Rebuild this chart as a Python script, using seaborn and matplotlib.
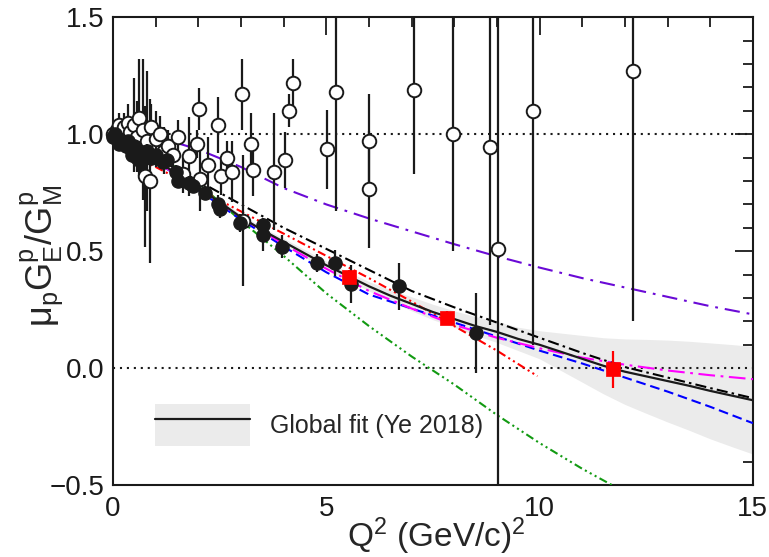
import numpy as np
import pandas as pd
import matplotlib
matplotlib.use("Agg")
import matplotlib.pyplot as plt
import seaborn as sns
from matplotlib.ticker import MultipleLocator, FixedFormatter, FixedLocator
from matplotlib.patches import Patch
from matplotlib.lines import Line2D

# ---------------- data ----------------
# Rosenbluth (open circles): Q2, ratio, error
ros_q = [0.01, 0.05, 0.10, 0.15, 0.20, 0.25, 0.30, 0.35, 0.40, 0.45, 0.50, 0.55,
         0.60, 0.65, 0.70, 0.75, 0.80, 0.87, 0.90, 1.00, 1.10, 1.20, 1.30, 1.40,
         1.52, 1.64, 1.78, 1.97, 2.01, 2.04, 2.23, 2.46, 2.53, 2.67, 2.78, 3.02,
         3.04, 3.23, 3.28, 3.77, 4.03, 4.12, 4.22, 5.01, 5.22, 6.00, 6.00, 7.05,
         7.96, 8.83, 9.02, 9.84, 12.20]
ros_v = [1.00, 0.99, 1.02, 1.04, 0.98, 1.03, 0.97, 1.05, 1.01, 0.95, 1.04, 0.99,
         1.07, 0.94, 1.02, 0.82, 0.97, 0.80, 1.03, 0.98, 1.00, 0.93, 0.95, 0.91,
         0.99, 0.83, 0.905, 0.96, 1.107, 0.81, 0.87, 1.04, 0.82, 0.90, 0.84, 1.17,
         0.63, 0.96, 0.845, 0.84, 0.89, 1.10, 1.22, 0.935, 1.18, 0.97, 0.765, 1.19,
         1.00, 0.945, 0.51, 1.10, 1.27]
ros_e = [0.02, 0.03, 0.04, 0.05, 0.04, 0.06, 0.05, 0.08, 0.06, 0.07, 0.20, 0.15,
         0.25, 0.12, 0.30, 0.30, 0.30, 0.35, 0.10, 0.12, 0.08, 0.10, 0.07, 0.06,
         0.07, 0.08, 0.17, 0.06, 0.09, 0.14, 0.12, 0.12, 0.08, 0.07, 0.13, 0.15,
         0.28, 0.13, 0.11, 0.25, 0.12, 0.07, 0.10, 0.17, 0.51, 0.20, 0.25, 0.36,
         0.50, 0.76, 1.10, 1.00, 1.07]

# Polarization transfer (filled circles)
pol_q = [0.01, 0.05, 0.10, 0.15, 0.20, 0.30, 0.35, 0.40, 0.45, 0.50, 0.55, 0.60,
         0.65, 0.70, 0.80, 0.90, 1.00, 1.18, 1.26, 1.48, 1.52, 1.77, 1.88, 2.15,
         2.47, 2.50, 2.97, 3.51, 3.51, 3.97, 4.78, 5.20, 5.57, 6.70, 8.50]
pol_v = [0.99, 1.00, 0.98, 0.96, 0.97, 0.95, 0.97, 0.94, 0.91, 0.95, 0.90, 0.93,
         0.88, 0.92, 0.93, 0.90, 0.91, 0.88, 0.89, 0.84, 0.80, 0.79, 0.78, 0.75,
         0.70, 0.68, 0.62, 0.61, 0.57, 0.52, 0.45, 0.45, 0.36, 0.35, 0.15]
pol_e = [0.01, 0.02, 0.02, 0.02, 0.02, 0.02, 0.015, 0.02, 0.03, 0.02, 0.03, 0.02,
         0.03, 0.02, 0.03, 0.03, 0.03, 0.03, 0.03, 0.03, 0.03, 0.03, 0.03, 0.03,
         0.04, 0.04, 0.04, 0.03, 0.07, 0.05, 0.04, 0.055, 0.08, 0.10, 0.17]

# New data (red squares)
new_q = [5.53, 7.82, 11.71]
new_v = [0.39, 0.213, -0.005]
new_e = [0.03, 0.03, 0.08]

# Global fit (Ye 2018) with uncertainty band
fit_q = [0.0, 0.5, 1.0, 1.5, 2.0, 2.5, 3.0, 3.5, 4.0, 4.5, 5.0, 5.5, 6.0, 6.5,
         7.0, 7.5, 8.0, 8.5, 9.0, 9.5, 10.0, 10.5, 11.0, 11.5, 12.0, 12.5,
         13.0, 13.5, 14.0, 14.5, 15.0]
fit_v = [1.00, 0.95, 0.89, 0.83, 0.77, 0.71, 0.645, 0.59, 0.54, 0.49, 0.44,
         0.395, 0.35, 0.31, 0.275, 0.24, 0.21, 0.18, 0.155, 0.125, 0.10, 0.07,
         0.04, 0.01, -0.015, -0.035, -0.055, -0.075, -0.097, -0.117, -0.137]
fit_err = [0.005, 0.006, 0.007, 0.008, 0.01, 0.011, 0.012, 0.013, 0.015, 0.016,
           0.017, 0.018, 0.02, 0.025, 0.03, 0.033, 0.035, 0.04, 0.045, 0.05,
           0.06, 0.08, 0.10, 0.12, 0.14, 0.158, 0.175, 0.19, 0.205, 0.218, 0.23]

# Other model curves
cq = [0.0, 1.0, 2.0, 3.0, 4.0, 5.0, 6.0, 7.0, 8.0, 9.0, 10.0, 11.0, 12.0, 13.0,
      14.0, 15.0]
dashdot_black = [1.00, 0.90, 0.80, 0.70, 0.60, 0.51, 0.42, 0.33, 0.26, 0.195,
                 0.13, 0.065, 0.005, -0.04, -0.085, -0.128]
violet_v = [1.00, 0.99, 0.935, 0.86, 0.77, 0.70, 0.64, 0.585, 0.53, 0.478,
            0.43, 0.385, 0.345, 0.305, 0.265, 0.23]
blue_v = [1.00, 0.885, 0.76, 0.635, 0.52, 0.41, 0.315, 0.255, 0.195, 0.135,
          0.075, 0.02, -0.04, -0.10, -0.165, -0.235]
magenta_v = [1.00, 0.885, 0.765, 0.645, 0.53, 0.425, 0.33, 0.255, 0.185, 0.13,
             0.085, 0.045, 0.015, -0.01, -0.03, -0.047]
red_q = [0.5, 1.0, 2.0, 3.0, 4.0, 5.0, 6.0, 7.0, 8.0, 9.0, 9.95]
red_v = [0.90, 0.86, 0.765, 0.67, 0.575, 0.48, 0.385, 0.285, 0.18, 0.075, -0.034]
green_q = [0.0, 1.0, 2.0, 3.0, 4.0, 5.0, 6.0, 7.0, 8.0, 9.0, 10.0, 11.0, 11.7]
green_v = [1.00, 0.92, 0.79, 0.63, 0.48, 0.32, 0.18, 0.05, -0.07, -0.20, -0.32,
           -0.43, -0.50]

xticks = [0, 5, 10, 15]
xtick_labels = ["0", "5", "10", "15"]
yticks = [-0.5, 0.0, 0.5, 1.0, 1.5]
ytick_labels = ["\u22120.5", "0.0", "0.5", "1.0", "1.5"]
legend_label = "Global fit (Ye 2018)"

# ---------------- style ----------------
sns.set_theme(style="white")
plt.rcParams["font.family"] = ["Liberation Sans", "DejaVu Sans"]
plt.rcParams["mathtext.fontset"] = "custom"
plt.rcParams["mathtext.rm"] = "Liberation Sans"
plt.rcParams["mathtext.it"] = "Liberation Sans"
plt.rcParams["mathtext.bf"] = "Liberation Sans:bold"
plt.rcParams["lines.scale_dashes"] = False

fig = plt.figure(figsize=(7.69, 5.57), dpi=100)
ax = fig.add_axes([0.147, 0.129, 0.832, 0.84])

# band
ax.fill_between(fit_q, np.array(fit_v) - np.array(fit_err),
                np.array(fit_v) + np.array(fit_err),
                color="#ebebeb", lw=0, zorder=1)

# reference dotted lines
ax.axhline(1.0, color="k", lw=1.5, ls=(0, (1.5, 3.5)), zorder=2)
ax.axhline(0.0, color="k", lw=1.5, ls=(0, (1.5, 3.5)), zorder=2)

LW = 1.5
curves = [
    (cq, violet_v, "#6a0ad6", (0, (11, 5, 2, 5))),
    (green_q, green_v, "#129a12", (0, (6, 2.5, 1.5, 2.5, 1.5, 2.5, 1.5, 2.5))),
    (red_q, red_v, "#ff0000", (0, (6, 2.5, 1.5, 2.5, 1.5, 2.5))),
    (cq, blue_v, "#0000ff", (0, (7, 3.5))),
    (cq, magenta_v, "#ff00ff", (0, (12, 4, 2, 4))),
    (cq, dashdot_black, "#000000", (0, (8, 3, 1.8, 3))),
]
for xq, yv, col, ls in curves:
    sns.lineplot(x=xq, y=yv, ax=ax, color=col, lw=LW, linestyle=ls,
                 errorbar=None, sort=False, zorder=3)

sns.lineplot(x=fit_q, y=fit_v, ax=ax, color="k", lw=1.6, errorbar=None,
             sort=False, zorder=3)

# data points
ax.errorbar(ros_q, ros_v, yerr=ros_e, fmt="none", ecolor="k", elinewidth=1.6,
            capsize=0, zorder=5)
sns.scatterplot(x=ros_q, y=ros_v, ax=ax, marker="o", s=95, color="white",
                edgecolor="k", linewidth=1.4, zorder=6, clip_on=False)
ax.errorbar(pol_q, pol_v, yerr=pol_e, fmt="none", ecolor="k", elinewidth=1.6,
            capsize=0, zorder=7)
sns.scatterplot(x=pol_q, y=pol_v, ax=ax, marker="o", s=90, color="k",
                edgecolor="k", linewidth=1.0, zorder=8, clip_on=False)
ax.errorbar(new_q, new_v, yerr=new_e, fmt="none", ecolor="#ff0000",
            elinewidth=1.6, capsize=0, zorder=9)
sns.scatterplot(x=new_q, y=new_v, ax=ax, marker="s", s=95, color="#ff0000",
                edgecolor="#ff0000", linewidth=0.5, zorder=10, clip_on=False)

# axes
ax.set_xlim(0, 15)
ax.set_ylim(-0.5, 1.5)
ax.xaxis.set_major_locator(FixedLocator(xticks))
ax.xaxis.set_major_formatter(FixedFormatter(xtick_labels))
ax.yaxis.set_major_locator(FixedLocator(yticks))
ax.yaxis.set_major_formatter(FixedFormatter(ytick_labels))
ax.xaxis.set_minor_locator(MultipleLocator(1))
ax.yaxis.set_minor_locator(MultipleLocator(0.1))
ax.tick_params(which="both", direction="in", top=True, right=True,
               colors="k", width=1.3, labelsize=20)
ax.tick_params(which="major", length=13)
ax.tick_params(axis="x", which="major", pad=8)
ax.tick_params(axis="y", which="major", pad=6)
ax.tick_params(which="minor", length=7)
for s in ax.spines.values():
    s.set_linewidth(1.5)
    s.set_color("k")

ax.set_xlabel(r"$\mathregular{Q^{2}\ (GeV/c)^{2}}$", fontsize=24)
ax.set_ylabel(r"$\mathregular{μ_{p}G_{E}^{p}/G_{M}^{p}}$", fontsize=26)
ax.xaxis.set_label_coords(0.505, -0.064)
ax.yaxis.set_label_coords(-0.075, 0.49)

h = (Patch(facecolor="#ebebeb", edgecolor="none"),
     Line2D([], [], color="k", lw=1.6))
ax.legend([h], [legend_label], loc="center left",
          bbox_to_anchor=(0.066, 0.128), frameon=False, fontsize=18,
          handlelength=3.8, handleheight=2.2, handletextpad=0.8,
          borderpad=0, borderaxespad=0)

fig.savefig("out.png", dpi=100)
